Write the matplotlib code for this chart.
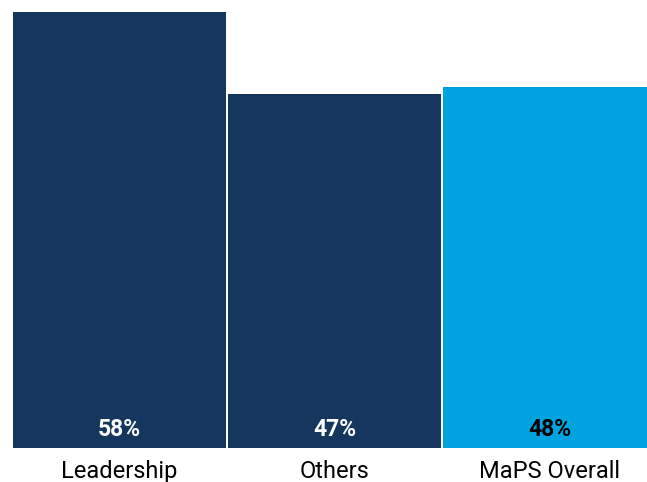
import matplotlib.pyplot as plt

categories = ['Leadership', 'Others', 'MaPS Overall']
values = [58, 47, 48]
labels = ['58%', '47%', '48%']
colors = ['#15375e', '#15375e', '#00a3df']
label_colors = ['white', 'white', 'black']

plt.rcParams['font.family'] = ['Roboto', 'DejaVu Sans']

fig = plt.figure(figsize=(6.47, 4.82), dpi=100)
ax = fig.add_axes([13/647, 34/482, 643/647, 436.5/482])

x = range(len(categories))
ax.bar(x, values, width=0.99, color=colors)
for i, (v, lab) in enumerate(zip(values, labels)):
    ax.text(i, 2.4, lab, ha='center', va='center', fontsize=16.5,
            fontweight='bold', color=label_colors[i])

ax.set_xlim(-0.495, 2.495)
ax.set_ylim(0, 58)
ax.set_xticks(list(x))
ax.set_xticklabels(categories, fontsize=17)
ax.tick_params(axis='x', length=0, pad=8.5)
ax.set_yticks([])
for s in ax.spines.values():
    s.set_visible(False)

fig.savefig('out.png', dpi=100)
